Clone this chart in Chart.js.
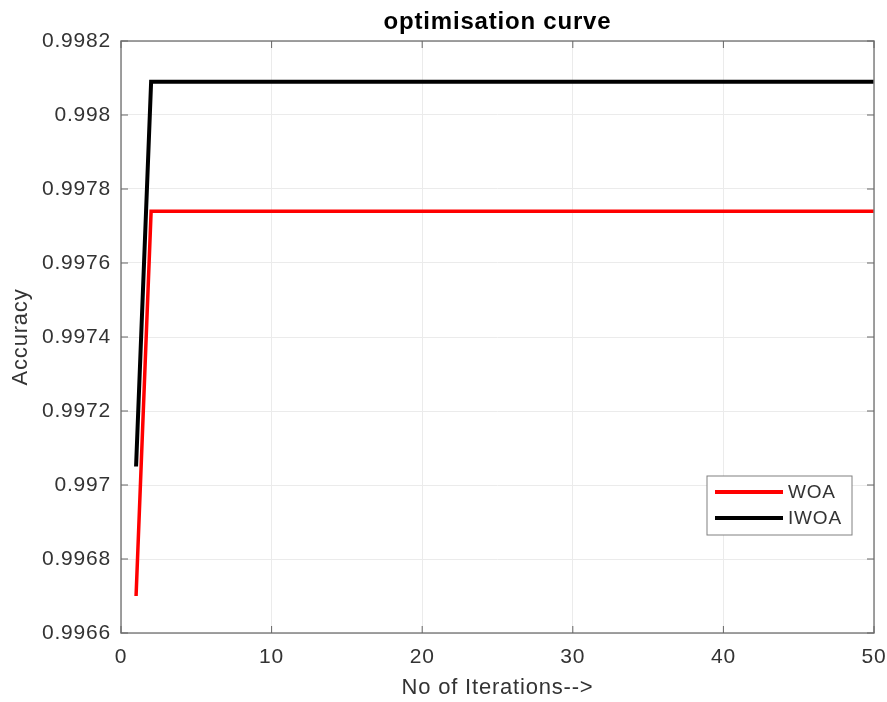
<!DOCTYPE html>
<html>
<head>
<meta charset="utf-8">
<script src="https://cdn.jsdelivr.net/npm/chart.js@4/dist/chart.umd.min.js"></script>
<style>
  html, body { margin: 0; padding: 0; background: #fff; }
  #wrap { width: 887px; height: 702px; }
</style>
</head>
<body>
<div id="wrap"><canvas id="optChart" width="887" height="702"></canvas></div>
<script>
// 반복 횟수
const iterations = [1, 2, 3, 4, 5, 6, 7, 8, 9, 10, 11, 12, 13, 14, 15, 16, 17, 18, 19, 20,
  21, 22, 23, 24, 25, 26, 27, 28, 29, 30, 31, 32, 33, 34, 35, 36, 37, 38, 39, 40,
  41, 42, 43, 44, 45, 46, 47, 48, 49, 50];

// WOA 정확도
const woaValues = [0.99670, 0.99774, 0.99774, 0.99774, 0.99774, 0.99774, 0.99774, 0.99774, 0.99774, 0.99774,
  0.99774, 0.99774, 0.99774, 0.99774, 0.99774, 0.99774, 0.99774, 0.99774, 0.99774, 0.99774,
  0.99774, 0.99774, 0.99774, 0.99774, 0.99774, 0.99774, 0.99774, 0.99774, 0.99774, 0.99774,
  0.99774, 0.99774, 0.99774, 0.99774, 0.99774, 0.99774, 0.99774, 0.99774, 0.99774, 0.99774,
  0.99774, 0.99774, 0.99774, 0.99774, 0.99774, 0.99774, 0.99774, 0.99774, 0.99774, 0.99774];

// IWOA 정확도
const iwoaValues = [0.99705, 0.99809, 0.99809, 0.99809, 0.99809, 0.99809, 0.99809, 0.99809, 0.99809, 0.99809,
  0.99809, 0.99809, 0.99809, 0.99809, 0.99809, 0.99809, 0.99809, 0.99809, 0.99809, 0.99809,
  0.99809, 0.99809, 0.99809, 0.99809, 0.99809, 0.99809, 0.99809, 0.99809, 0.99809, 0.99809,
  0.99809, 0.99809, 0.99809, 0.99809, 0.99809, 0.99809, 0.99809, 0.99809, 0.99809, 0.99809,
  0.99809, 0.99809, 0.99809, 0.99809, 0.99809, 0.99809, 0.99809, 0.99809, 0.99809, 0.99809];

// 축 눈금
const xTicks = [0, 10, 20, 30, 40, 50];
const yTicks = [0.9966, 0.9968, 0.997, 0.9972, 0.9974, 0.9976, 0.9978, 0.998, 0.9982];

const FONT = '"Liberation Sans", Arial, Helvetica, sans-serif';
const axisColor = '#333333';
const SPACING = '0.8px';

function toPoints(vals) {
  return vals.map((v, i) => ({ x: iterations[i], y: v }));
}

// 글자 간격 (원본 글꼴이 조금 더 넓음)
const spacingPlugin = {
  id: 'spacing',
  beforeLayout(chart) { chart.ctx.letterSpacing = SPACING; },
  beforeDraw(chart) { chart.ctx.letterSpacing = SPACING; }
};

// 제목, 테두리, 안쪽 눈금, 범례
const matlabPlugin = {
  id: 'matlabAxes',
  afterDraw(chart) {
    const { ctx, chartArea: a, scales } = chart;
    ctx.save();
    // box
    ctx.strokeStyle = '#808080';
    ctx.lineWidth = 1.5;
    ctx.strokeRect(a.left, a.top, a.right - a.left, a.bottom - a.top);
    // inward ticks
    ctx.strokeStyle = '#666';
    ctx.lineWidth = 1;
    xTicks.forEach(t => {
      const px = scales.x.getPixelForValue(t);
      ctx.beginPath();
      ctx.moveTo(px, a.bottom); ctx.lineTo(px, a.bottom - 7);
      ctx.moveTo(px, a.top); ctx.lineTo(px, a.top + 7);
      ctx.stroke();
    });
    yTicks.forEach(t => {
      const py = scales.y.getPixelForValue(t);
      ctx.beginPath();
      ctx.moveTo(a.left, py); ctx.lineTo(a.left + 7, py);
      ctx.moveTo(a.right, py); ctx.lineTo(a.right - 7, py);
      ctx.stroke();
    });
    // title
    ctx.fillStyle = '#000';
    ctx.font = 'bold 24px ' + FONT;
    ctx.textAlign = 'center';
    ctx.textBaseline = 'middle';
    ctx.fillText('optimisation curve', (a.left + a.right) / 2, 22);
    // legend
    const lx = 707, ly = 476, lw = 145, lh = 59;
    ctx.fillStyle = '#fff';
    ctx.fillRect(lx, ly, lw, lh);
    ctx.strokeStyle = '#808080';
    ctx.lineWidth = 1;
    ctx.strokeRect(lx, ly, lw, lh);
    ctx.font = '19px ' + FONT;
    ctx.textAlign = 'left';
    chart.data.datasets.forEach((ds, i) => {
      const y = ly + 16 + i * 26;
      ctx.strokeStyle = ds.borderColor;
      ctx.lineWidth = 4;
      ctx.beginPath();
      ctx.moveTo(lx + 8, y); ctx.lineTo(lx + 76, y);
      ctx.stroke();
      ctx.fillStyle = axisColor;
      ctx.fillText(ds.label, lx + 81, y + 1);
    });
    ctx.restore();
  }
};

const ctx = document.getElementById('optChart').getContext('2d');
const optChart = new Chart(ctx, {
  type: 'line',
  data: {
    datasets: [{
      label: 'WOA',
      data: toPoints(woaValues),
      borderColor: '#ff0000',
      borderWidth: 3.5,
      pointRadius: 0,
      tension: 0,
      fill: false
    }, {
      label: 'IWOA',
      data: toPoints(iwoaValues),
      borderColor: '#000000',
      borderWidth: 4,
      pointRadius: 0,
      tension: 0,
      fill: false
    }]
  },
  options: {
    responsive: false,
    animation: false,
    layout: { padding: { top: 41, right: 13, left: 0, bottom: 0 } },
    plugins: {
      legend: { display: false },
      tooltip: { enabled: false }
    },
    scales: {
      x: {
        type: 'linear',
        min: 0,
        max: 50,
        afterBuildTicks: s => { s.ticks = xTicks.map(v => ({ value: v })); },
        afterFit: s => { s.height = 69; s.paddingLeft = 0; s.paddingRight = 0; },
        grid: { color: '#ebebeb', drawTicks: false },
        border: { display: false },
        ticks: { color: axisColor, font: { family: FONT, size: 21 }, padding: 12, maxRotation: 0 },
        title: { display: true, text: 'No of Iterations-->', color: axisColor, font: { family: FONT, size: 22 }, padding: { top: 4, bottom: 1 } }
      },
      y: {
        min: 0.9966,
        max: 0.9982,
        afterBuildTicks: s => { s.ticks = yTicks.map(v => ({ value: v })); },
        afterFit: s => { s.width = 121; s.paddingTop = 0; s.paddingBottom = 0; },
        grid: { color: '#ebebeb', drawTicks: false },
        border: { display: false },
        ticks: {
          color: axisColor,
          font: { family: FONT, size: 21 },
          padding: 10,
          callback: v => String(parseFloat(Number(v).toFixed(4)))
        },
        title: { display: true, text: 'Accuracy', color: axisColor, font: { family: FONT, size: 22 }, padding: 8 }
      }
    }
  },
  plugins: [spacingPlugin, matlabPlugin]
});
</script>
</body>
</html>
